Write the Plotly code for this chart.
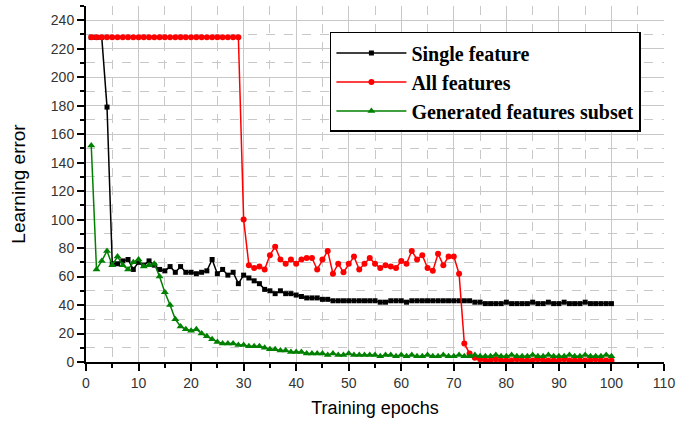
import plotly.graph_objects as go

epochs = list(range(1, 101))

single_feature = [228, 228, 228, 179, 69, 69, 71, 72, 65, 70,
                  68, 71, 68, 65, 64, 67, 63, 67, 63, 63,
                  62, 63, 64, 72, 62, 65, 61, 63, 55, 61,
                  59, 57, 55, 51, 50, 48, 50, 48, 48, 47,
                  46, 45, 45, 45, 44, 44, 43, 43, 43, 43,
                  43, 43, 43, 43, 43, 42, 42, 43, 43, 43,
                  42, 43, 43, 43, 43, 43, 43, 43, 43, 43,
                  43, 43, 43, 42, 42, 41, 41, 41, 41, 42,
                  41, 41, 41, 41, 42, 41, 41, 42, 41, 41,
                  42, 41, 41, 41, 42, 41, 41, 41, 41, 41]

all_features = [228] * 29 + [100, 68, 66, 67, 65, 75, 81, 72, 69, 72, 69,
                             72, 73, 73, 65, 72, 78, 62, 69, 63, 69,
                             74, 65, 69, 73, 69, 66, 68, 67, 66, 71,
                             69, 78, 72, 75, 66, 64, 76, 68, 74, 74,
                             62, 13, 6, 3, 2, 1, 1, 2, 1, 1,
                             1, 2, 1, 1, 1, 2, 1, 1, 1, 1,
                             2, 1, 1, 1, 1, 1, 2, 1, 1, 1, 1]

generated_subset = [152, 65, 71, 78, 68, 74, 68, 65, 70, 72,
                    67, 68, 69, 60, 49, 40, 30, 25, 23, 22,
                    23, 20, 18, 16, 14, 13, 13, 13, 12, 12,
                    11, 11, 11, 10, 9, 9, 8, 8, 7, 7,
                    7, 6, 6, 6, 6, 5, 6, 5, 5, 6,
                    5, 5, 5, 5, 5, 4, 5, 5, 4, 5,
                    4, 5, 4, 4, 5, 4, 4, 5, 4, 4,
                    5, 4, 4, 5, 4, 4, 4, 5, 4, 4,
                    5, 4, 4, 4, 5, 4, 4, 5, 4, 4,
                    4, 5, 4, 4, 5, 4, 4, 4, 5, 4]

x_ticks = list(range(0, 111, 10))
y_ticks = list(range(0, 241, 20))

fig = go.Figure()
fig.add_trace(go.Scatter(x=epochs, y=single_feature, name="Single feature",
                         mode="lines+markers",
                         line=dict(color="black", width=1.5),
                         marker=dict(symbol="square", size=5, color="black")))
fig.add_trace(go.Scatter(x=epochs, y=all_features, name="All features",
                         mode="lines+markers",
                         line=dict(color="#ff0000", width=1.5),
                         marker=dict(symbol="circle", size=6, color="#ff0000")))
fig.add_trace(go.Scatter(x=epochs, y=generated_subset, name="Generated features subset",
                         mode="lines+markers",
                         line=dict(color="#008000", width=1.5),
                         marker=dict(symbol="triangle-up", size=7, color="#008000")))

grid_c = "#c8c8c8"
fig.update_layout(
    width=696, height=427,
    margin=dict(l=86, r=32, t=6, b=65),
    paper_bgcolor="white", plot_bgcolor="white",
    font=dict(family="Arial, Liberation Sans, sans-serif", color="#333333", size=14),
    legend=dict(x=0.422, y=0.927, xanchor="left", yanchor="top",
                bgcolor="white", bordercolor="black", borderwidth=1.5,
                font=dict(family="Liberation Serif, Times New Roman, serif", size=20,
                          color="black", weight="bold"),
                itemwidth=70),
    xaxis=dict(range=[0, 110], tickvals=x_ticks, showline=True, linecolor="black",
               linewidth=2, ticks="outside", ticklen=7, tickwidth=1.5, tickcolor="black",
               showgrid=True, gridcolor=grid_c, gridwidth=1, zeroline=False,
               tickfont=dict(size=14, color="#333333"),
               title=dict(text="Training epochs", font=dict(size=18, color="black"), standoff=12),
               minor=dict(dtick=5, ticks="outside", ticklen=4, tickcolor="black",
                          showgrid=True, gridcolor=grid_c, griddash="dash")),
    yaxis=dict(range=[0, 250], tickvals=y_ticks, showline=True, linecolor="black",
               linewidth=2, ticks="outside", ticklen=7, tickwidth=1.5, tickcolor="black",
               showgrid=True, gridcolor=grid_c, gridwidth=1, zeroline=False,
               tickfont=dict(size=14, color="#333333"),
               title=dict(text="Learning error", font=dict(size=19, color="black"), standoff=20),
               minor=dict(dtick=10, ticks="outside", ticklen=4, tickcolor="black",
                          showgrid=True, gridcolor=grid_c, griddash="dash")),
)

fig.write_html("out.html")
